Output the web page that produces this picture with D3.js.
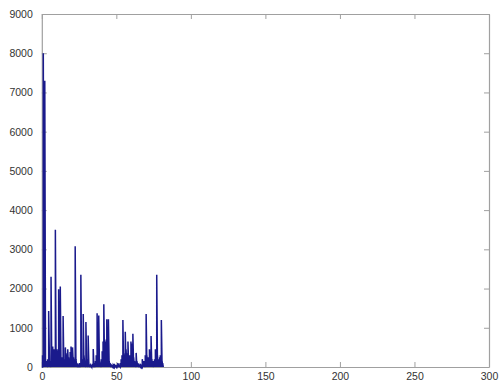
<!DOCTYPE html>
<html><head><meta charset="utf-8">
<script src="https://cdn.jsdelivr.net/npm/d3@7"></script>
<style>html,body{margin:0;padding:0;background:#fff;}svg{display:block;}</style>
</head><body>
<script>
const xVals = [0,0.5,1,1.5,2,2.5,3,3.5,4,4.6,5.2,5.7,6.2,6.7,7.3,7.8,8.3,9.1,9.6,10.2,10.7,11.3,11.8,12.4,12.9,13.4,14.3,14.8,15.3,15.8,16.3,16.8,17.4,17.9,18.4,19,19.6,20.1,20.6,21.2,21.7,22.4,22.9,23.5,24,24.6,25.2,25.7,26.2,26.7,27.2,27.8,28.3,28.9,29.6,30.1,30.6,31.1,31.6,32.2,32.8,33.4,33.9,34.5,35,35.5,36,36.5,37.1,37.6,38.2,38.7,39.3,39.9,40.5,41.1,41.6,42.1,42.6,43.2,43.6,44.1,44.7,45.2,45.8,46.3,46.9,47.5,48,48.6,49.2,49.8,50.4,51,51.5,52,52.6,53.2,53.8,54.4,54.9,55.5,56,56.5,57.1,57.8,58.3,58.9,59.8,60.3,60.6,61.1,61.6,62.2,62.7,63.3,63.8,64.4,65,65.6,66.2,66.8,67.4,68,68.6,69.4,70,70.5,71,71.6,72.2,72.7,73.3,73.8,74.4,75,75.6,76.2,76.7,77.1,77.6,78.1,78.6,79.1,79.5,80.2,80.7,81.1,81.5];
const yVals = [0,300,8000,300,7300,200,150,100,200,1430,150,100,2300,200,520,400,450,3500,400,450,400,1980,450,2050,200,250,1300,200,150,500,350,300,450,250,200,380,520,450,500,250,200,3080,200,100,80,50,100,80,2350,200,150,1350,300,150,1150,200,100,800,80,50,40,60,80,460,100,60,150,300,1370,600,1310,150,100,200,400,650,1600,650,650,700,1220,650,1220,150,100,50,30,20,40,80,30,20,60,100,40,30,100,200,300,1200,350,250,900,450,350,650,200,300,650,400,600,850,250,150,100,360,150,100,50,30,40,30,200,150,150,300,1350,300,200,250,450,200,790,200,100,150,200,450,300,2350,300,200,150,250,300,1200,150,100,0];
const xTicks = [0,50,100,150,200,250,300];
const yTicks = [0,1000,2000,3000,4000,5000,6000,7000,8000,9000];

const W = 501, H = 381;
const m = {left: 41.8, right: 12, top: 14, bottom: 14};
const svg = d3.select("body").append("svg").attr("width", W).attr("height", H);
const x = d3.scaleLinear().domain([0,300]).range([m.left, W - m.right]);
const y = d3.scaleLinear().domain([0,9000]).range([H - m.bottom, m.top]);

const axisColor = "#a0a0a0", textColor = "#333";
const g = svg.append("g");

const xb = g.append("g").attr("transform", `translate(0,${y(0)})`)
  .call(d3.axisBottom(x).tickValues(xTicks).tickSizeInner(-5).tickSizeOuter(0).tickPadding(7).tickFormat(d3.format("d")));
const xt = g.append("g").attr("transform", `translate(0,${y(9000)})`)
  .call(d3.axisTop(x).tickValues(xTicks).tickSizeInner(-5).tickSizeOuter(0).tickFormat(""));
const yl = g.append("g").attr("transform", `translate(${x(0)},0)`)
  .call(d3.axisLeft(y).tickValues(yTicks).tickSizeInner(-5).tickSizeOuter(0).tickPadding(9).tickFormat(d3.format("d")));
const yr = g.append("g").attr("transform", `translate(${x(300)},0)`)
  .call(d3.axisRight(y).tickValues(yTicks).tickSizeInner(-5).tickSizeOuter(0).tickFormat(""));

[xb, xt, yl, yr].forEach(a => {
  a.selectAll("path.domain").attr("stroke", axisColor).attr("stroke-width", 1.2);
  a.selectAll(".tick line").attr("stroke", axisColor).attr("stroke-width", 1);
  a.selectAll("text").attr("fill", textColor).attr("font-family", "Liberation Sans, Arial, sans-serif").attr("font-size", 10.5);
});
xb.selectAll(".tick text").attr("dy", "0.55em");

// each sample drawn as a stem rising from the baseline (spike-train look)
const pts = xVals.flatMap((d, i) => [[d, 0], [d, yVals[i]]]);
svg.append("path").datum(pts)
  .attr("fill", "none").attr("stroke", "#1a1a8c").attr("stroke-width", 1.5).attr("stroke-linejoin", "miter")
  .attr("d", d3.line().x(d => x(d[0])).y(d => y(d[1])));
</script>
</body></html>
